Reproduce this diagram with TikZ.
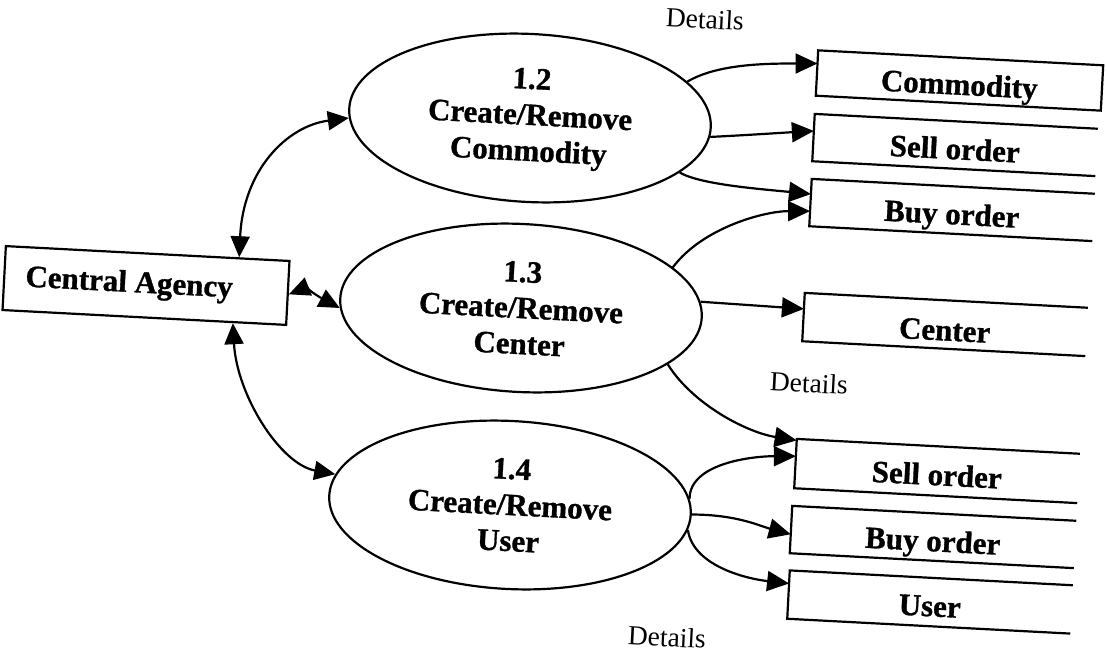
\documentclass[tikz,border=0pt]{standalone}
\usepackage{fontspec}
\setmainfont[BoldFeatures={FakeBold=1}]{Liberation Serif}
\usetikzlibrary{arrows.meta,calc,shapes.geometric}
\begin{document}
\begin{tikzpicture}[x=1pt,y=-1pt,
  flow/.style={line width=2.2pt,-{Triangle[length=22pt,width=20pt]}},
  twoway/.style={line width=2.2pt,{Triangle[length=21pt,width=19pt]}-{Triangle[length=21pt,width=19pt]}},
  process/.style={ellipse,draw,line width=2.2pt,rotate=-3,minimum width=362pt,
    minimum height=168pt,inner sep=0pt,align=center,
    font=\fontsize{31}{36}\selectfont\bfseries},
  agent/.style={rectangle,draw,line width=2.2pt,rotate=-3,minimum width=284pt,
    minimum height=64pt,inner sep=0pt,
    font=\fontsize{31}{35}\selectfont\bfseries},
  storebox/.style={rectangle,rotate=-3,minimum width=283pt,minimum height=47pt,
    inner sep=0pt,text height=28.5pt,text depth=0pt,
    font=\fontsize{31}{35}\selectfont\bfseries},
  storeline/.style={line width=2.2pt,line join=miter},
  note/.style={rotate=-3,font=\fontsize{27.5}{30}\selectfont},
]
\fill[white] (0,0) rectangle (1107,655);
\useasboundingbox (0,0) rectangle (1107,655);

% processes
\node[process] (p12) at (530,118) {1.2\\Create/Remove\\Commodity};
\node[process] (p13) at (521,308) {1.3\\Create/Remove\\Center};
\node[process] (p14) at (510,505) {1.4\\Create/Remove\\User};

% external entity (label sits left of the box centre)
\node[agent] (ca) at (146,285.5) {Central Agency\kern34pt};

% data stores
\node[storebox,minimum width=285pt,minimum height=45pt] (dcom) at (959.5,80.5) {Commodity};
\node[storebox] (dsell1) at (955,145) {Sell order};
\node[storebox] (dbuy1) at (952,210) {Buy order};
\node[storebox,minimum height=48pt,text height=32pt] (dcen) at (945,324.5) {Center};
\node[storebox,minimum height=49pt] (dsell2) at (937,471) {Sell order};
\node[storebox,minimum width=284pt] (dbuy2) at (933,537) {Buy order};
\node[storebox,minimum height=48pt] (duser) at (930,602) {User};

\draw[storeline] (dcom.north west) -- (dcom.north east) -- (dcom.south east)
  -- (dcom.south west) -- cycle;
\foreach \s in {dsell1,dbuy1,dcen,dsell2,dbuy2,duser}
  \draw[storeline] (\s.north east) -- (\s.north west) -- (\s.south west) -- (\s.south east);

% flow labels
\node[note] (l1) at (705,19) {Details};
\node[note] (l2) at (809,383) {Details};
\node[note] (l3) at (667,637) {Details};

% central agency links
\draw[twoway] ($(ca.north west)!0.82!(ca.north east)$)
  .. controls +(4,-87) and +(-62,8) .. (p12.183);
\draw[twoway] ($(ca.north east)!0.52!(ca.south east)$)
  .. controls +(15,-6) and +(-15,-8) .. (p13.183);
\draw[twoway] ($(ca.south west)!0.81!(ca.south east)$)
  .. controls +(4,72) and +(-55,-10) .. (p14.173.5);

% flows from 1.2
\draw[flow] (p12.16) .. controls +(30,-18) and +(-50,0) ..
  ($(dcom.north west)!0.29!(dcom.south west)$);
\draw[flow] (p12.-3) .. controls +(40,-2) and +(-35,2) ..
  ($(dsell1.north west)!0.36!(dsell1.south west)$);
\draw[flow] (p12.-17) .. controls +(20,12) and +(-50,-5) ..
  ($(dbuy1.north west)!0.32!(dbuy1.south west)$);

% flows from 1.3
\draw[flow] (p13.18) .. controls +(30,-40) and +(-45,0) ..
  ($(dbuy1.north west)!0.68!(dbuy1.south west)$);
\draw[flow] (p13.5) -- ($(dcen.north west)!0.33!(dcen.south west)$);
\draw[flow] (p13.-18) .. controls +(25,40) and +(-50,-8) ..
  ($(dsell2.north west)!0.03!(dsell2.south west)$);

% flows from 1.4
\draw[flow] (p14.5.5) .. controls +(0,-35) and +(-45,0) ..
  ($(dsell2.north west)!0.35!(dsell2.south west)$);
\draw[flow] (p14.0.5) .. controls +(45,0) and +(-30,-8) ..
  ($(dbuy2.north west)!0.6!(dbuy2.south west)$);
\draw[flow] (p14.-5) .. controls +(5,35) and +(-45,-5) ..
  ($(duser.north west)!0.27!(duser.south west)$);
\end{tikzpicture}
\end{document}
